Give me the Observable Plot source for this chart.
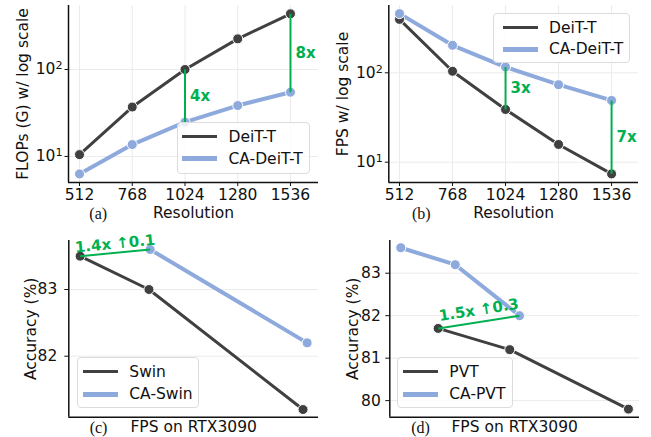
<!DOCTYPE html>
<html><head><meta charset="utf-8">
<script src="https://cdn.jsdelivr.net/npm/d3@7"></script>
<script src="https://cdn.jsdelivr.net/npm/@observablehq/plot@0.6"></script>
<style>
body{margin:0;background:#fff;}
#fig{position:relative;width:651px;height:437px;font-family:"DejaVu Sans",sans-serif;overflow:hidden;}
.panel{position:absolute;}
.legend{position:absolute;border:1px solid #dcdcdc;border-radius:4px;background:rgba(255,255,255,0.8);box-sizing:border-box;}
.legend .sw{position:absolute;}
.legend .lb{position:absolute;font-size:15.5px;line-height:16px;color:#111;white-space:nowrap;}
</style></head><body><div id="fig"></div><script>
// ---- data ----
const resolutions = [512, 768, 1024, 1280, 1536];
const flopsDeiT = [10.5, 37, 100, 225, 437];
const flopsCADeiT = [6.3, 13.7, 24.8, 38.5, 54.8];
const fpsDeiT = [396, 104, 38.9, 15.8, 7.4];
const fpsCADeiT = [459, 203, 116, 73.6, 49.1];
const gapIdx = [2, 4];
const gapLabelsA = ["4x", "8x"];
const gapLabelsB = ["3x", "7x"];
const logTicks = [10, 100];
const logTickExp = ["1", "2"];

const swinFps = [300, 418, 682];
const swinAcc = [83.5, 83.0, 81.2];
const caSwinFps = [420, 689];
const caSwinAcc = [83.6, 82.2];
const swinNote = "1.4x ↑0.1";
const accTicksC = [82, 83];

const pvtFps = [200, 288, 434];
const pvtAcc = [81.7, 81.2, 79.8];
const caPvtFps = [154, 221, 300];
const caPvtAcc = [83.6, 83.2, 82.0];
const pvtNote = "1.5x ↑0.3";
const accTicksD = [80, 81, 82, 83];

const DARK = "#404040", BLUE = "#8eaadc", GREEN = "#00b050", GRID = "#ebebeb";
const FONT = "DejaVu Sans";

const zip = (xs, ys) => xs.map((x, i) => ({x, y: ys[i]}));
const fig = document.getElementById("fig");

function place(svg, left, top) {
  svg.classList.add("panel");
  svg.style.left = left + "px";
  svg.style.top = top + "px";
  fig.appendChild(svg);
}
function legend(box, items) {
  const d = document.createElement("div");
  d.className = "legend";
  Object.assign(d.style, {left: box.left + "px", top: box.top + "px", width: box.w + "px", height: box.h + "px"});
  for (const it of items) {
    const s = document.createElement("div");
    s.className = "sw";
    Object.assign(s.style, {left: box.sw + "px", width: "35px", height: it.lw + "px", top: (it.cy - it.lw / 2) + "px", background: it.color});
    const t = document.createElement("div");
    t.className = "lb";
    t.textContent = it.label;
    Object.assign(t.style, {left: box.tx + "px", top: (it.cy - 8) + "px"});
    d.appendChild(s); d.appendChild(t);
  }
  fig.appendChild(d);
}
// turn "10^k" tick labels into a real superscript
function superscripts(svg) {
  svg.querySelectorAll("text").forEach(t => {
    const m = /^10\^(\d)$/.exec(t.textContent);
    if (!m) return;
    t.textContent = "10";
    const s = document.createElementNS("http://www.w3.org/2000/svg", "tspan");
    s.setAttribute("dy", "-0.45em");
    s.setAttribute("font-size", "0.72em");
    s.textContent = m[1];
    t.appendChild(s);
  });
  return svg;
}

const style = {fontFamily: FONT, fontSize: "15.5px", color: "#111", background: "transparent", overflow: "visible"};
const txt = {fontSize: 15.5, fontFamily: FONT, fill: "#111", textAnchor: "middle", lineAnchor: "middle"};

function seriesMarks(a, b) {
  return [
    Plot.line(a, {x: "x", y: "y", stroke: DARK, strokeWidth: 3}),
    Plot.line(b, {x: "x", y: "y", stroke: BLUE, strokeWidth: 4}),
    Plot.dot(a, {x: "x", y: "y", r: 5, fill: DARK, stroke: "white", strokeWidth: 1}),
    Plot.dot(b, {x: "x", y: "y", r: 5, fill: BLUE, stroke: "white", strokeWidth: 1})
  ];
}

// ---- (a) / (b) resolution panels ----
function resPanel(dark, blue, labels, xDom, yDom, m, yLabel, tag, lblDx, tagDx, tickPad) {
  const A = zip(resolutions, dark), B = zip(resolutions, blue);
  const gaps = gapIdx.map((i, k) => ({x: resolutions[i], y1: dark[i], y2: blue[i], ym: Math.sqrt(dark[i] * blue[i]), label: labels[k]}));
  return superscripts(Plot.plot({
    width: m.w, height: m.h, marginLeft: m.l, marginRight: m.r, marginTop: m.t, marginBottom: m.b,
    style,
    x: {type: "linear", domain: xDom},
    y: {type: "log", domain: yDom},
    marks: [
      Plot.gridX(resolutions, {stroke: GRID, strokeOpacity: 1}),
      Plot.gridY(logTicks, {stroke: GRID, strokeOpacity: 1}),
      Plot.axisX(resolutions, {tickSize: 4, tickPadding: 2, fontSize: 15.5, label: null, tickFormat: d => String(d)}),
      Plot.axisY(logTicks, {tickSize: 3.5, tickPadding: tickPad, fontSize: 15.5, label: null, tickFormat: d => "10^" + logTickExp[logTicks.indexOf(d)]}),
      Plot.ruleX([xDom[0]], {stroke: "#111", strokeWidth: 1.5}),
      Plot.ruleY([yDom[0]], {stroke: "#111", strokeWidth: 1.5}),
      ...seriesMarks(A, B),
      Plot.link(gaps, {x1: "x", x2: "x", y1: "y1", y2: "y2", stroke: GREEN, strokeWidth: 2}),
      Plot.text(gaps, {x: "x", y: "ym", text: "label", textAnchor: "start", dx: 5, fill: GREEN, fontWeight: "bold", fontSize: 15, fontFamily: FONT}),
      Plot.text([yLabel], {...txt, text: d => d, frameAnchor: "left", rotate: -90, dx: lblDx}),
      Plot.text(["Resolution"], {...txt, text: d => d, frameAnchor: "bottom", dy: 30.5}),
      Plot.text([tag], {...txt, text: d => d, frameAnchor: "bottom-left", dx: tagDx, dy: 31, fontSize: 16, fontFamily: "Liberation Serif"})
    ]
  }));
}

place(resPanel(flopsDeiT, flopsCADeiT, gapLabelsA, [458.6, 1672], [5.02, 544],
  {w: 325, h: 220, l: 68, r: 7, t: 5, b: 38}, "FLOPs (G) w/ log scale", "(a)", -45.3, 29.7, 2.5), 0, 0);
place(resPanel(fpsDeiT, fpsCADeiT, gapLabelsB, [460.3, 1666], [5.93, 566],
  {w: 326, h: 220, l: 63.3, r: 13, t: 5, b: 38}, "FPS w/ log scale", "(b)", -45.6, 32.5, 2.5), 325, 0);

// ---- (c) / (d) accuracy vs FPS panels ----
function accPanel(A, B, link, note, rot, noteDy, ticks, xDom, yDom, m, tag, lblDx, tagDx, tickPad) {
  const mid = {x: (link.x1 + link.x2) / 2, y: (link.y1 + link.y2) / 2, note};
  return Plot.plot({
    width: m.w, height: m.h, marginLeft: m.l, marginRight: m.r, marginTop: m.t, marginBottom: m.b,
    style,
    x: {type: "linear", domain: xDom, axis: null},
    y: {type: "linear", domain: yDom},
    marks: [
      Plot.gridY(ticks, {stroke: GRID, strokeOpacity: 1}),
      Plot.axisY(ticks, {tickSize: 4, tickPadding: tickPad, fontSize: 15.5, label: null, tickFormat: d => String(d)}),
      Plot.ruleX([xDom[0]], {stroke: "#111", strokeWidth: 1.5}),
      Plot.ruleY([yDom[0]], {stroke: "#111", strokeWidth: 1.5}),
      ...seriesMarks(A, B),
      Plot.link([link], {x1: "x1", x2: "x2", y1: "y1", y2: "y2", stroke: GREEN, strokeWidth: 2}),
      Plot.text([mid], {x: "x", y: "y", text: "note", rotate: rot, dy: noteDy, textAnchor: "middle", fill: GREEN, fontWeight: "bold", fontSize: 15, fontFamily: FONT}),
      Plot.text(["Accuracy (%)"], {...txt, text: d => d, frameAnchor: "left", rotate: -90, dx: lblDx}),
      Plot.text(["FPS on RTX3090"], {...txt, text: d => d, frameAnchor: "bottom", dy: 10}),
      Plot.text([tag], {...txt, text: d => d, frameAnchor: "bottom-left", dx: tagDx, dy: 10.5, fontSize: 16, fontFamily: "Liberation Serif"})
    ]
  });
}

const swin = zip(swinFps, swinAcc), caSwin = zip(caSwinFps, caSwinAcc);
place(accPanel(swin, caSwin, {x1: swinFps[0], y1: swinAcc[0], x2: caSwinFps[0], y2: caSwinAcc[0]}, swinNote, -5.5, -9,
  accTicksC, [280.6, 708.5], [81.085, 83.735], {w: 325, h: 217, l: 68.3, r: 7, t: 20, b: 20.3}, "(c)", -37.5, 29.7, 7.5), 0, 220);

const pvt = zip(pvtFps, pvtAcc), caPvt = zip(caPvtFps, caPvtAcc);
place(accPanel(pvt, caPvt, {x1: pvtFps[0], y1: pvtAcc[0], x2: caPvtFps[2], y2: caPvtAcc[2]}, pvtNote, -8.9, -12,
  accTicksD, [140.5, 447.6], [79.61, 83.77], {w: 326, h: 217, l: 64.3, r: 12, t: 20, b: 20.3}, "(d)", -37, 30.7, 5), 325, 220);

// ---- legends ----
legend({left: 177, top: 122, w: 133, h: 52, sw: 4, tx: 50.5}, [
  {label: "DeiT-T", color: DARK, lw: 3, cy: 13.7},
  {label: "CA-DeiT-T", color: BLUE, lw: 4.5, cy: 35.7}]);
legend({left: 493, top: 13, w: 137, h: 50, sw: 8.5, tx: 55}, [
  {label: "DeiT-T", color: DARK, lw: 3, cy: 13.7},
  {label: "CA-DeiT-T", color: BLUE, lw: 4.5, cy: 35.3}]);
legend({left: 77.3, top: 356.7, w: 122, h: 51.6, sw: 4.4, tx: 51}, [
  {label: "Swin", color: DARK, lw: 3, cy: 14},
  {label: "CA-Swin", color: BLUE, lw: 4.5, cy: 36.6}]);
legend({left: 397.3, top: 356.7, w: 115.4, h: 51.6, sw: 4.4, tx: 51}, [
  {label: "PVT", color: DARK, lw: 3, cy: 14},
  {label: "CA-PVT", color: BLUE, lw: 4.5, cy: 36.6}]);
</script></body></html>
